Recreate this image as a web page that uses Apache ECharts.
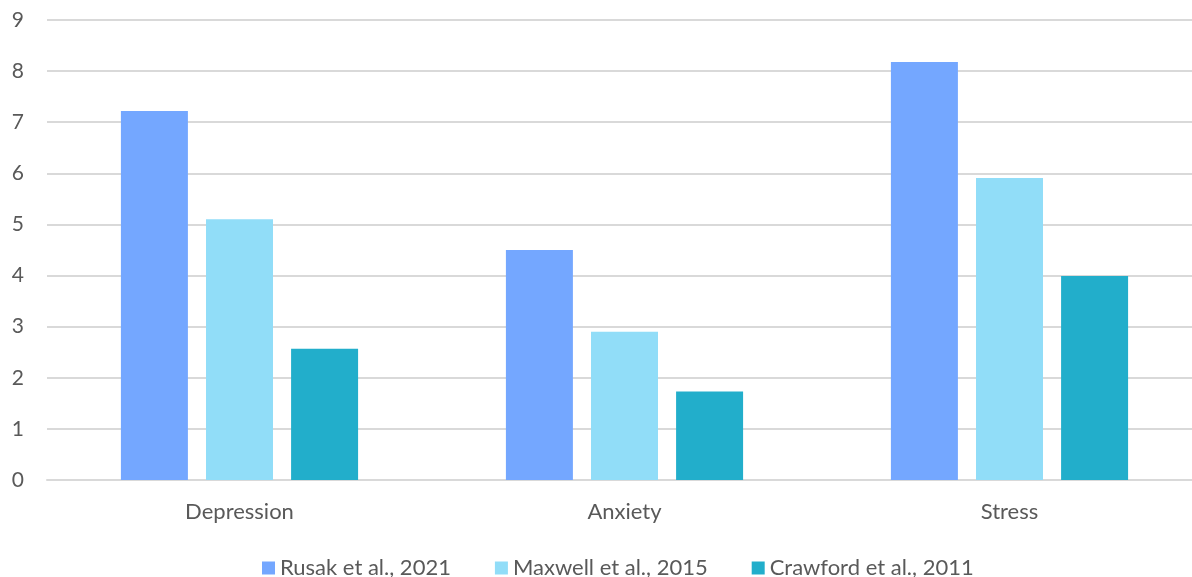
<!DOCTYPE html>
<html><head><meta charset="utf-8">
<script src="https://cdn.jsdelivr.net/npm/echarts@6/dist/echarts.min.js"></script>
<style>html,body{margin:0;padding:0;background:#fff}#c{width:1192px;height:577px}</style>
</head><body><div id="c"></div>
<script>
const categories = ['Depression', 'Anxiety', 'Stress'];
const seriesNames = ['Rusak et al., 2021', 'Maxwell et al., 2015', 'Crawford et al., 2011'];
const rusak = [7.22, 4.5, 8.18];
const maxwell = [5.1, 2.9, 5.91];
const crawford = [2.57, 1.73, 3.99];
const colors = ['#74A7FF', '#91DDF8', '#22AECB'];
const font = 'Lato';
const chart = echarts.init(document.getElementById('c'));
const vals = [rusak, maxwell, crawford];
chart.setOption({
  animation: false,
  grid: {left: 47, width: 1155, top: 20, bottom: 97, outerBoundsMode: 'none', containLabel: false},
  legend: {
    top: 557, left: 262, padding: 0, itemWidth: 13, itemHeight: 13, itemGap: 44,
    icon: 'rect',
    textStyle: {fontFamily: font, fontSize: 22, color: '#595959'},
    data: seriesNames
  },
  xAxis: {
    type: 'category', data: categories,
    axisLine: {show: true, lineStyle: {color: '#d9d9d9', width: 2}},
    axisTick: {show: false},
    axisLabel: {fontFamily: font, fontSize: 22, color: '#595959', margin: 21}
  },
  yAxis: {
    type: 'value', min: 0, max: 9, interval: 1,
    axisLine: {show: false}, axisTick: {show: false},
    splitLine: {lineStyle: {color: '#d9d9d9', width: 2}},
    axisLabel: {fontFamily: font, fontSize: 21, color: '#595959', margin: 23}
  },
  series: seriesNames.map((n, i) => ({
    name: n, type: 'bar', data: vals[i], barWidth: 67, barGap: '27%',
    itemStyle: {color: colors[i]}
  }))
});
</script></body></html>
